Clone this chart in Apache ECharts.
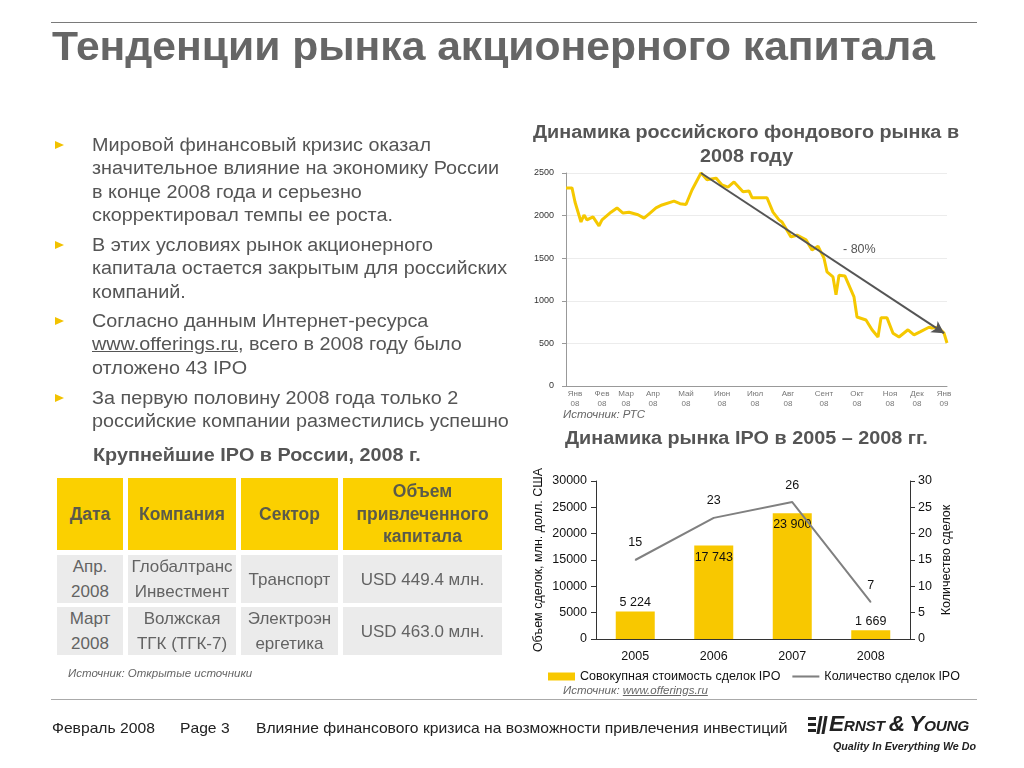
<!DOCTYPE html>
<html><head><meta charset="utf-8">
<script src="https://cdn.jsdelivr.net/npm/echarts@6/dist/echarts.min.js"></script>
<style>
body{margin:0;width:1024px;height:768px;overflow:hidden;background:#fff;font-family:"Liberation Sans",Arial,sans-serif;position:relative}
#chart{position:absolute;left:0;top:0;width:1024px;height:768px}
.t{position:absolute;white-space:nowrap;transform-origin:0 0}
.hr{position:absolute;left:51px;width:926px;height:1px;background:#7a7a7a}
.title{left:52px;top:26px;font-size:40px;font-weight:bold;color:#666;line-height:40px;transform:scaleX(1.065)}
.para{position:absolute;left:92px;font-size:18px;line-height:23.3px;color:#555;white-space:nowrap;transform:scaleX(1.1);transform-origin:0 0}
.bul{position:absolute;left:55px;width:0;height:0;border-left:9px solid #F2C200;border-top:4.5px solid transparent;border-bottom:4.5px solid transparent}
.cell{position:absolute;display:flex;align-items:center;justify-content:center;text-align:center;white-space:pre-line}
.hd{background:#FBD000;font-weight:bold;color:#5a5a4a;font-size:17.5px;line-height:22.5px}
.bd{background:#EBEBEB;color:#636363;font-size:17px;line-height:25px}
.src{font-style:italic;font-size:11.5px;color:#666}
.h2{font-weight:bold;font-size:18px;color:#555;transform:scaleX(1.1)}
.foot{font-size:14.5px;color:#222;transform:scaleX(1.08)}
</style></head>
<body>
<div id="chart"></div>
<div id="overlay"></div>
<script>
// ---------------- DATA ----------------
const slideTitle = 'Тенденции рынка акционерного капитала';
const bullets = [
  ['Мировой финансовый кризис оказал','значительное влияние на экономику России','в конце 2008 года и серьезно','скорректировал темпы ее роста.'],
  ['В этих условиях рынок акционерного','капитала остается закрытым для российских','компаний.'],
  ['Согласно данным Интернет-ресурса','<u>www.offerings.ru</u>, всего в 2008 году было','отложено 43 IPO'],
  ['За первую половину 2008 года только 2','российские компании разместились успешно']
];
const tableTitle = 'Крупнейшие IPO в России, 2008 г.';
const tableHeader = ['Дата','Компания','Сектор','Объем\nпривлеченного\nкапитала'];
const tableRows = [
  ['Апр.\n2008','Глобалтранс\nИнвестмент','Транспорт','USD 449.4 млн.'],
  ['Март\n2008','Волжская\nТГК (ТГК-7)','Электроэн\nергетика','USD 463.0 млн.']
];
const tableSource = 'Источник: Открытые источники';

const rtsTitleLines = ['Динамика российского фондового рынка в','2008 году'];
const rtsSource = 'Источник: РТС';
const rtsMonthLabels = ['Янв\n08','Фев\n08','Мар\n08','Апр\n08','Май\n08','Июн\n08','Июл\n08','Авг\n08','Сент\n08','Окт\n08','Ноя\n08','Дек\n08','Янв\n09'];
const rtsMonthIdx = [3,12,20,29,40,52,63,74,86,97,108,117,126];
const rtsDayCount = 128;
const rtsDayIdx = [0,2,3,5,6,7,9,11,12,15,17,19,21,24,26,28,30,32,36,38,40,42,45,47,50,52,54,56,59,61,62,67,69,71,72,75,77,80,82,84,86,87,89,90,91,93,96,97,100,102,104,105,107,109,111,114,116,118,121,122,124,126,127];
const rtsValues = [2325,2325,2160,1925,2007,1950,1985,1880,1950,2040,2090,2030,2040,2010,1970,2030,2090,2125,2170,2140,2130,2300,2500,2420,2440,2360,2335,2395,2280,2290,2210,2210,2040,1950,1925,1750,1770,1715,1595,1640,1500,1340,1280,1070,1300,1290,1045,810,775,660,575,800,800,620,575,660,600,635,690,680,690,620,505];
const trendFrom = [45, 2500];
const trendTo = [126, 620];
const trendLabel = '- 80%';

const ipoTitle = 'Динамика рынка IPO в 2005 – 2008 гг.';
const ipoYears = ['2005','2006','2007','2008'];
const ipoVolume = [5224,17743,23900,1669];
const ipoCount = [15,23,26,7];
const ipoVolumeName = 'Совокупная стоимость сделок IPO';
const ipoCountName = 'Количество сделок IPO';
const ipoLeftAxisName = 'Объем сделок, млн. долл. США';
const ipoRightAxisName = 'Количество сделок';
const ipoSource = 'Источник: <u>www.offerings.ru</u>';

const footerDate = 'Февраль 2008';
const footerPage = 'Page 3';
const footerText = 'Влияние финансового кризиса на возможности привлечения инвестиций';

// ---------------- HTML TEXT ----------------
const ov = document.getElementById('overlay');
function add(html){ ov.insertAdjacentHTML('beforeend', html); }
add('<div class="hr" style="top:22px"></div>');
add('<div class="hr" style="top:699px;background:#aaa"></div>');
add(`<div class="t title">${slideTitle}</div>`);
const paraTops = [134,234,310,387];
bullets.forEach((lines,i)=>{
  add(`<div class="bul" style="top:${paraTops[i]+7}px"></div>`);
  add(`<div class="para" style="top:${paraTops[i]}px">${lines.join('<br>')}</div>`);
});
add(`<div class="t h2" style="left:93px;top:445px">${tableTitle}</div>`);
const colX = [[57,123],[128,236],[241,338],[343,502]];
const rowY = [[478,550],[555,603],[607,655]];
[tableHeader, ...tableRows].forEach((row,r)=>{
  row.forEach((txt,c)=>{
    add(`<div class="cell ${r===0?'hd':'bd'}" style="left:${colX[c][0]}px;width:${colX[c][1]-colX[c][0]}px;top:${rowY[r][0]}px;height:${rowY[r][1]-rowY[r][0]}px">${txt}</div>`);
  });
});
add(`<div class="t src" style="left:68px;top:667px">${tableSource}</div>`);
add(`<div class="t h2" style="left:533px;top:120px;line-height:24px">${rtsTitleLines[0]}</div>`);
add(`<div class="t h2" style="left:700px;top:144px;line-height:24px">${rtsTitleLines[1]}</div>`);
add(`<div class="t src" style="left:563px;top:408px">${rtsSource}</div>`);
add(`<div class="t" style="left:843px;top:242px;font-size:12.5px;color:#555">${trendLabel}</div>`);
add(`<div class="t h2" style="left:565px;top:428px">${ipoTitle}</div>`);
add(`<div class="t src" style="left:563px;top:684px">${ipoSource}</div>`);
add(`<div class="t foot" style="left:52px;top:720px">${footerDate}</div>`);
add(`<div class="t foot" style="left:180px;top:720px">${footerPage}</div>`);
add(`<div class="t foot" style="left:256px;top:720px">${footerText}</div>`);
// logo
add(`<div class="t" style="left:808px;top:716px;width:18px;height:20px">
 <div style="position:absolute;left:0;top:1px;width:8px;height:3px;background:#222"></div>
 <div style="position:absolute;left:0;top:7px;width:8px;height:3px;background:#222"></div>
 <div style="position:absolute;left:0;top:13px;width:8px;height:3px;background:#222"></div>
 <div style="position:absolute;left:10px;top:0;width:3px;height:18px;background:#222;transform:skewX(-10deg)"></div>
 <div style="position:absolute;left:15px;top:0;width:3px;height:18px;background:#222;transform:skewX(-10deg)"></div></div>`);
add(`<div class="t" style="left:829px;top:711px;font-size:22px;font-weight:bold;font-style:italic;font-variant:small-caps;color:#222;letter-spacing:-0.3px;transform:scaleX(1.03)">Ernst&thinsp;&amp;&thinsp;Young</div>`);
add(`<div class="t" style="left:833px;top:740px;font-size:11.5px;font-weight:bold;font-style:italic;color:#222;transform:scaleX(0.93)">Quality In Everything We Do</div>`);

// ---------------- CHART ----------------
const rtsCats = Array.from({length: rtsDayCount}, (_, i) => String(i));
const rtsSeries = new Array(rtsDayCount).fill(null);
rtsDayIdx.forEach((d, k) => { rtsSeries[d] = rtsValues[k]; });
const labelMap = {};
rtsMonthIdx.forEach((d, k) => { labelMap[d] = rtsMonthLabels[k]; });
const fmtThousands = v => String(v).replace(/\B(?=(\d{3})+(?!\d))/g, ' ');
const plain = v => String(v);

const chart = echarts.init(document.getElementById('chart'), null, {renderer:'canvas'});
chart.setOption({
  animation: false,
  textStyle: {fontFamily: '"Liberation Sans", Arial, sans-serif'},
  grid: [
    {left: 566, right: 77, top: 173, bottom: 382, containLabel: false, outerBoundsMode: 'none'},
    {left: 596, right: 114, top: 481, bottom: 129, containLabel: false, outerBoundsMode: 'none'}
  ],
  legend: {
    left: 543, top: 665, itemWidth: 27, itemHeight: 8, itemGap: 12,
    textStyle: {fontSize: 12.5, color: '#111'},
    data: [{name: ipoVolumeName, icon: 'rect'}, {name: ipoCountName, icon: 'path://M0,0 L26,0 L26,2 L0,2 Z'}]
  },
  xAxis: [
    {gridIndex: 0, type: 'category', boundaryGap: false, data: rtsCats,
     axisLine: {lineStyle: {color: '#999'}}, axisTick: {show: false},
     axisLabel: {interval: (i) => labelMap[i] !== undefined, formatter: (v, i) => labelMap[i] || '',
       fontSize: 8, lineHeight: 10, color: '#777', margin: 3}},
    {gridIndex: 1, type: 'category', data: ipoYears,
     axisLine: {lineStyle: {color: '#333'}}, axisTick: {length: 5, lineStyle: {color: '#333'}},
     axisLabel: {fontSize: 12.5, color: '#111', margin: 11}}
  ],
  yAxis: [
    {gridIndex: 0, type: 'value', min: 0, max: 2500, interval: 500,
     axisLine: {show: true, lineStyle: {color: '#999'}}, axisTick: {show: true, length: 4, lineStyle: {color: '#999'}},
     splitLine: {lineStyle: {color: '#ececec'}}, axisLabel: {fontSize: 9, color: '#333', margin: 12, formatter: plain}},
    {gridIndex: 1, type: 'value', min: 0, max: 30000, interval: 5000,
     name: ipoLeftAxisName, nameLocation: 'middle', nameGap: 51, nameRotate: 90,
     nameTextStyle: {fontSize: 12.5, color: '#111'},
     axisLine: {show: true, lineStyle: {color: '#333'}}, axisTick: {show: true, length: 5, lineStyle: {color: '#333'}},
     splitLine: {show: false}, axisLabel: {fontSize: 12.5, color: '#111', margin: 9, formatter: plain}},
    {gridIndex: 1, type: 'value', position: 'right', min: 0, max: 30, interval: 5,
     name: ipoRightAxisName, nameLocation: 'middle', nameGap: 30, nameRotate: 90,
     nameTextStyle: {fontSize: 12.5, color: '#111'},
     axisLine: {show: true, lineStyle: {color: '#333'}}, axisTick: {show: true, length: 5, lineStyle: {color: '#333'}},
     splitLine: {show: false}, axisLabel: {fontSize: 12.5, color: '#111', margin: 8, formatter: plain}}
  ],
  series: [
    {type: 'line', xAxisIndex: 0, yAxisIndex: 0, data: rtsSeries, connectNulls: true, symbol: 'none',
     lineStyle: {color: '#F5C800', width: 3}, silent: true,
     markLine: {silent: true, symbol: ['none', 'arrow'], symbolSize: [10, 12], animation: false,
       lineStyle: {color: '#555', width: 2, type: 'solid'}, label: {show: false},
       data: [[{coord: [String(trendFrom[0]), trendFrom[1]]}, {coord: [String(trendTo[0]), trendTo[1]]}]]}},
    {type: 'bar', name: ipoVolumeName, xAxisIndex: 1, yAxisIndex: 1, barWidth: 39,
     itemStyle: {color: '#F8C800'},
     label: {show: true, fontSize: 12.5, color: '#111', formatter: p => fmtThousands(p.value)},
     data: ipoVolume.map(v => ({value: v, label: v > 10000 ? {position: 'insideTop', distance: 5} : {position: 'top', distance: 2}}))},
    {type: 'line', name: ipoCountName, xAxisIndex: 1, yAxisIndex: 2, data: ipoCount,
     symbol: 'circle', symbolSize: 1, showSymbol: true,
     lineStyle: {color: '#808080', width: 2}, itemStyle: {color: '#808080'},
     label: {show: true, position: 'top', distance: 10, fontSize: 12.5, color: '#111'}}
  ]
});
</script>
</body></html>
